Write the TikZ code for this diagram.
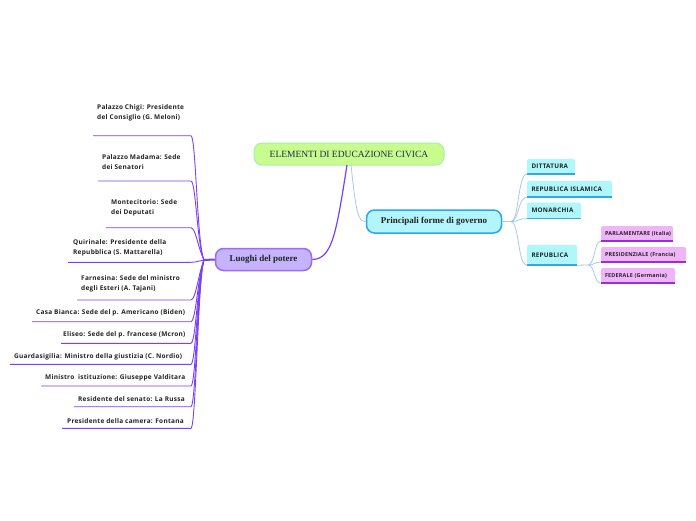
\documentclass[tikz,border=0pt]{standalone}
\usepackage{fontspec}
\setmainfont{Liberation Serif}
\newfontfamily\lab[LetterSpace=4]{Open Sans}
\usetikzlibrary{positioning,calc}
\definecolor{purp}{HTML}{7B3FF5}
\definecolor{lblue}{HTML}{A9C9E6}
\definecolor{cfill}{HTML}{C8FC8E}
\definecolor{cbord}{HTML}{A6F0A8}
\definecolor{navy}{HTML}{1C2A4A}
\definecolor{lfill}{HTML}{C5B3FC}
\definecolor{lbord}{HTML}{9C6CF2}
\definecolor{pfill}{HTML}{B3F5FD}
\definecolor{pbord}{HTML}{2AA8EA}
\definecolor{sfill}{HTML}{AEF7FB}
\definecolor{sline}{HTML}{3AA4E8}
\definecolor{kfill}{HTML}{F0B4F8}
\definecolor{kline}{HTML}{9B2BE0}
\definecolor{txt}{HTML}{222222}
\tikzset{
  mainbox/.style={draw, rounded corners=8pt, inner sep=0pt},
  leftlab/.style={anchor=west, align=left, inner sep=0pt, text=txt, font=\lab\bfseries\fontsize{6.5}{10}\selectfont},
  ulink/.style={purp, line width=0.9pt},
  blink/.style={lblue, line width=0.8pt},
  subbox/.style={fill=sfill, rounded corners=2pt, inner xsep=4.5pt, inner ysep=0pt, align=left, text=txt, font=\lab\bfseries\fontsize{6.3}{7}\selectfont},
  pinkbox/.style={fill=kfill, rounded corners=2pt, inner xsep=4pt, inner ysep=0pt, align=left, text=txt, font=\lab\bfseries\fontsize{5.4}{6}\selectfont},
}
\begin{document}
\begin{tikzpicture}[x=1pt,y=-1pt]
\useasboundingbox (0,0) rectangle (696,520);
% main nodes
\node[mainbox, fill=cfill, draw=cbord, line width=1pt, minimum width=190pt, minimum height=22pt, text=navy, font=\fontsize{9.5}{11}\selectfont] (root) at (349,154) {ELEMENTI DI EDUCAZIONE CIVICA};
\node[mainbox, fill=lfill, draw=lbord, line width=1.5pt, minimum width=96pt, minimum height=22pt, text=txt, font=\bfseries\fontsize{9}{10}\selectfont] (luo) at (263.5,259.5) {Luoghi del potere};
\node[mainbox, fill=pfill, draw=pbord, line width=1.5pt, minimum width=135pt, minimum height=23pt, text=txt, font=\bfseries\fontsize{9}{10}\selectfont] (pri) at (434,221.5) {Principali forme di governo};
% root connectors
\draw[purp, line width=1.2pt] (347,165) .. controls (336,235) and (332,259) .. (luo.east);
\draw[blink] (351,165) .. controls (356,212) and (358,222) .. (pri.west);
% left labels
\coordinate (hub) at (204,260);
\node[leftlab] (l1) at (97,113) {Palazzo Chigi: Presidente\\del Consiglio (G. Meloni)};
\node[leftlab] (l2) at (102,162) {Palazzo Madama: Sede\\dei Senatori};
\node[leftlab] (l3) at (111,208) {Montecitorio: Sede\\dei Deputati};
\node[leftlab] (l4) at (73,248) {Quirinale: Presidente della\\Repubblica (S. Mattarella)};
\node[leftlab] (l5) at (81,284) {Farnesina: Sede del ministro\\degli Esteri (A. Tajani)};
\node[leftlab] (l6) at (36,313) {Casa Bianca: Sede del p. Americano (Biden)};
\node[leftlab] (l7) at (63,335) {Eliseo: Sede del p. francese (Mcron)};
\node[leftlab] (l8) at (14,356.7) {Guardasigilia: Ministro della giustizia (C. Nordio)};
\node[leftlab] (l9) at (45,377.7) {Ministro\ \ istituzione: Giuseppe Valditara};
\node[leftlab] (l10) at (78,399.3) {Residente del senato: La Russa};
\node[leftlab] (l11) at (67,420.7) {Presidente della camera: Fontana};
\foreach \i/\xa/\y in {1/93/135.7, 2/98/181, 3/106/227.7, 4/68/262.3, 5/77/300, 6/32/321.7, 7/61/343.3, 8/10/364.3, 9/41/386, 10/74/406.7, 11/62/428.3}{
  \coordinate (s\i) at (\xa,\y);
  \coordinate (e\i) at (191,\y);
}
\foreach \i in {1,2,3}{
  \draw[ulink] (s\i) -- (e\i) .. controls ($(e\i)+(5,1)$) and (197,245) .. (hub);
}
\draw[ulink] (s4) -- (e4) .. controls (198,262.3) and (200,260) .. (hub);
\foreach \i in {5,6,7,8,9,10,11}{
  \draw[ulink] (s\i) -- (e\i) .. controls ($(e\i)+(5,-1)$) and (198,275) .. (hub);
}
\draw[purp, line width=2pt] (hub) -- (luo.west);
% right subnodes
\node[subbox, text width=39pt, minimum height=15pt] (dit) at (551,166.5) {\mbox{DITTATURA}};
\node[subbox, text width=76pt, minimum height=16pt] (isl) at (569.5,189) {\mbox{REPUBLICA ISLAMICA}};
\node[subbox, text width=45pt, minimum height=16pt] (mon) at (554,210.5) {\mbox{MONARCHIA}};
\node[subbox, text width=41pt, minimum height=20pt] (rep) at (552,255) {\mbox{REPUBLICA}};
\foreach \n in {dit,isl,mon,rep}{
  \draw[sline, line width=1.5pt] (\n.south west) -- (\n.south east);
}
\coordinate (phub) at (511,221.5);
\draw[blink] (pri.east) -- (phub);
\foreach \n in {dit,isl,mon,rep}{
  \draw[blink] (phub) .. controls (519,221.5) and ($(\n.south west)+(-9,0)$) .. (\n.south west);
}
% pink subnodes
\node[pinkbox, text width=64pt, minimum height=15pt] (par) at (637,233.5) {\mbox{PARLAMENTARE (Italia)}};
\node[pinkbox, text width=77pt, minimum height=15pt] (pres) at (643.5,254.5) {\mbox{PRESIDENZIALE (Francia)}};
\node[pinkbox, text width=66pt, minimum height=15pt] (fed) at (638,275.5) {\mbox{FEDERALE (Germania)}};
\foreach \n in {par,pres,fed}{
  \draw[kline, line width=1.5pt] (\n.south west) -- (\n.south east);
}
\coordinate (rhub) at (588,265);
\draw[blink] (rep.south east) -- (rhub);
\foreach \n in {par,pres,fed}{
  \draw[blink] (rhub) .. controls (595,265) and ($(\n.south west)+(-7,0)$) .. (\n.south west);
}
\end{tikzpicture}
\end{document}
